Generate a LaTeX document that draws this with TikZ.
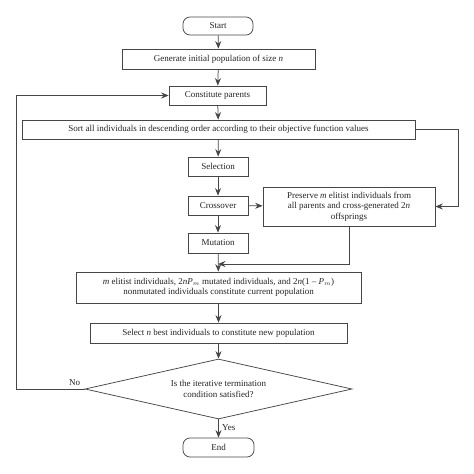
\documentclass[tikz,border=0pt]{standalone}
\usepackage{fontspec}
\setmainfont{Liberation Serif}
\usetikzlibrary{arrows.meta,shapes.geometric}
\definecolor{ln}{RGB}{70,70,70}
\definecolor{tx}{RGB}{35,35,35}
\tikzset{
  box/.style={draw=ln,line width=0.75pt,rectangle,inner sep=0pt,text=tx,font=\fontsize{9}{10.5}\selectfont,align=center},
  term/.style={box,rounded corners=7pt},
  dec/.style={draw=ln,line width=0.75pt,diamond,aspect=4.45,inner sep=0pt,text=tx,font=\fontsize{9}{10.5}\selectfont,align=center},
  arr/.style={draw=ln,line width=0.75pt,-{Stealth[length=7.5pt,width=6pt,inset=2.5pt]}},
  lbl/.style={text=tx,font=\fontsize{9}{10.5}\selectfont}
}
\begin{document}
\begin{tikzpicture}[x=1pt,y=-1pt]
\useasboundingbox (0,0) rectangle (474,474);
\node[term,minimum width=70pt,minimum height=18pt] (start) at (218,26) {Start};
\node[box,minimum width=193pt,minimum height=20pt] (gen) at (218.5,59) {Generate initial population of size \textit{n}};
\node[box,minimum width=97pt,minimum height=19pt] (par) at (217.5,95.5) {Constitute parents};
\node[box,minimum width=393pt,minimum height=19pt] (sort) at (218.5,129.5) {Sort all individuals in descending order according to their objective function values};
\node[box,minimum width=60pt,minimum height=19pt] (sel) at (218,166.5) {Selection};
\node[box,minimum width=60pt,minimum height=19pt] (cro) at (218,205.5) {Crossover};
\node[box,minimum width=60pt,minimum height=20pt] (mut) at (218,243) {Mutation};
\node[box,minimum width=172pt,minimum height=39pt] (pre) at (349,206.5) {Preserve \textit{m} elitist individuals from\\all parents and cross-generated 2\textit{n}\\offsprings};
\node[box,minimum width=285pt,minimum height=31pt] (cur) at (218.5,287.5) {\textit{m} elitist individuals, 2\textit{nP}$_m$ mutated individuals, and 2\textit{n}(1 -- \textit{P}$_m$)\\nonmutated individuals constitute current population};
\node[box,minimum width=257pt,minimum height=20pt] (best) at (218.5,333) {Select \textit{n} best individuals to constitute new population};
\node[dec,minimum width=267pt,minimum height=60pt] (cond) at (218.5,389) {Is the iterative termination\\condition satisfied?};
\node[term,minimum width=71pt,minimum height=19pt] (end) at (218.5,447.5) {End};
\coordinate (rt1) at (458,129.5);
\coordinate (rt2) at (458,206.5);
\coordinate (j1) at (349,264);
\coordinate (j2) at (218,264);
\coordinate (l1) at (16,389);
\coordinate (l2) at (16,95.5);
\draw[arr] (start) -- (gen);
\draw[arr] (gen) -- (par);
\draw[arr] (par) -- (sort);
\draw[arr] (sort) -- (sel);
\draw[arr] (sel) -- (cro);
\draw[arr] (cro) -- (mut);
\draw[arr] (cro) -- (pre);
\draw[arr] (mut) -- (cur);
\draw[arr] (pre.south -| j1) -- (j1) -- (j2);
\draw[arr] (sort.east) -- (rt1) -- (rt2) -- (pre.east);
\draw[arr] (cur) -- (best);
\draw[arr] (best) -- (cond);
\draw[arr] (cond) -- node[lbl,right,pos=0.45] {Yes} (end);
\draw[arr] (cond.west) -- (l1) -- (l2) -- (par.west);
\node[lbl,above left] (no) at ([xshift=-1pt]cond.west) {No};
\end{tikzpicture}
\end{document}
